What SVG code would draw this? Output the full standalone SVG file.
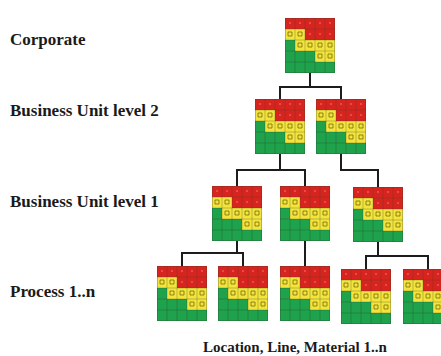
<svg xmlns="http://www.w3.org/2000/svg" xmlns:xlink="http://www.w3.org/1999/xlink" width="441" height="356" viewBox="0 0 441 356">
  <style>
    .wire { fill: none; stroke: #1c1c1c; stroke-width: 2; stroke-linecap: square; }
    .r { fill: #d8241f; }
    .y { fill: #f2e43c; }
    .g { fill: #1ea24c; }
    .grid { fill: none; stroke: #3a3a2a; stroke-opacity: 0.35; stroke-width: 0.8; }
    .yd { fill: none; stroke: #7a6a10; stroke-width: 0.8; }
    .rd { fill: #f08080; }
  </style>
  <defs>
    <!-- 5x5 traffic-light matrix, 50 x 55 -->
    <g id="matrix">
      <!-- row 1 -->
      <rect class="r" x="0" y="0" width="50" height="11"/>
      <!-- row 2 -->
      <rect class="y" x="0" y="11" width="20" height="11"/>
      <rect class="r" x="20" y="11" width="30" height="11"/>
      <!-- row 3 -->
      <rect class="g" x="0" y="22" width="10" height="11"/>
      <rect class="y" x="10" y="22" width="40" height="11"/>
      <!-- row 4 -->
      <rect class="g" x="0" y="33" width="30" height="11"/>
      <rect class="y" x="30" y="33" width="20" height="11"/>
      <!-- row 5 -->
      <rect class="g" x="0" y="44" width="50" height="11"/>
      <!-- cell lines -->
      <path class="grid" d="M10,0V55M20,0V55M30,0V55M40,0V55M0,11H50M0,22H50M0,33H50M0,44H50"/>
      <rect class="grid" x="0.4" y="0.4" width="49.2" height="54.2"/>
      <!-- marks inside yellow cells -->
      <path class="yd" d="M3,14h4v4h-4zM13,14h4v4h-4zM13,25h4v4h-4zM23,25h4v4h-4zM33,25h4v4h-4zM43,25h4v4h-4zM33,36h4v4h-4zM43,36h4v4h-4z"/>
      <!-- dots inside red cells -->
      <g class="rd">
        <circle cx="5" cy="5" r="0.8"/><circle cx="15" cy="5" r="0.8"/><circle cx="25" cy="5" r="0.8"/><circle cx="35" cy="5" r="0.8"/><circle cx="45" cy="5" r="0.8"/>
        <circle cx="25" cy="16" r="0.8"/><circle cx="35" cy="16" r="0.8"/><circle cx="45" cy="16" r="0.8"/>
      </g>
    </g>
  </defs>

  <rect width="441" height="356" fill="#ffffff"/>

  <!-- level labels -->
  <g id="labels" font-family="'Liberation Serif', 'DejaVu Serif', serif" font-weight="bold" font-size="17" fill="#1a1a1a">
    <text x="10" y="45">Corporate</text>
    <text x="10" y="116">Business Unit level 2</text>
    <text x="10" y="207">Business Unit level 1</text>
    <text x="10" y="297">Process 1..n</text>
    <text x="203" y="352" font-size="15">Location, Line, Material 1..n</text>
  </g>

  <!-- tree connectors -->
  <g id="connectors" class="wire">
    <path d="M310,73V87M280,87H341M280,87V99M341,87V99"/>
    <path d="M280,154V170M237,170H305M237,170V186M305,170V186"/>
    <path d="M341,154V170H378V187"/>
    <path d="M237,241V253M182,253H243M182,253V266M243,253V266"/>
    <path d="M305,241V266"/>
    <path d="M378,242V256M366,256H428M366,256V269M428,256V269"/>
  </g>

  <!-- nodes -->
  <g id="corporate"><use xlink:href="#matrix" href="#matrix" x="285" y="18"/></g>
  <g id="bu2-a"><use xlink:href="#matrix" href="#matrix" x="255" y="99"/></g>
  <g id="bu2-b"><use xlink:href="#matrix" href="#matrix" x="316" y="99"/></g>
  <g id="bu1-a"><use xlink:href="#matrix" href="#matrix" x="212" y="186"/></g>
  <g id="bu1-b"><use xlink:href="#matrix" href="#matrix" x="280" y="186"/></g>
  <g id="bu1-c"><use xlink:href="#matrix" href="#matrix" x="353" y="187"/></g>
  <g id="process-1"><use xlink:href="#matrix" href="#matrix" x="157" y="266"/></g>
  <g id="process-2"><use xlink:href="#matrix" href="#matrix" x="218" y="266"/></g>
  <g id="process-3"><use xlink:href="#matrix" href="#matrix" x="280" y="266"/></g>
  <g id="process-4"><use xlink:href="#matrix" href="#matrix" x="341" y="269"/></g>
  <g id="process-5"><use xlink:href="#matrix" href="#matrix" x="403" y="269"/></g>
</svg>
